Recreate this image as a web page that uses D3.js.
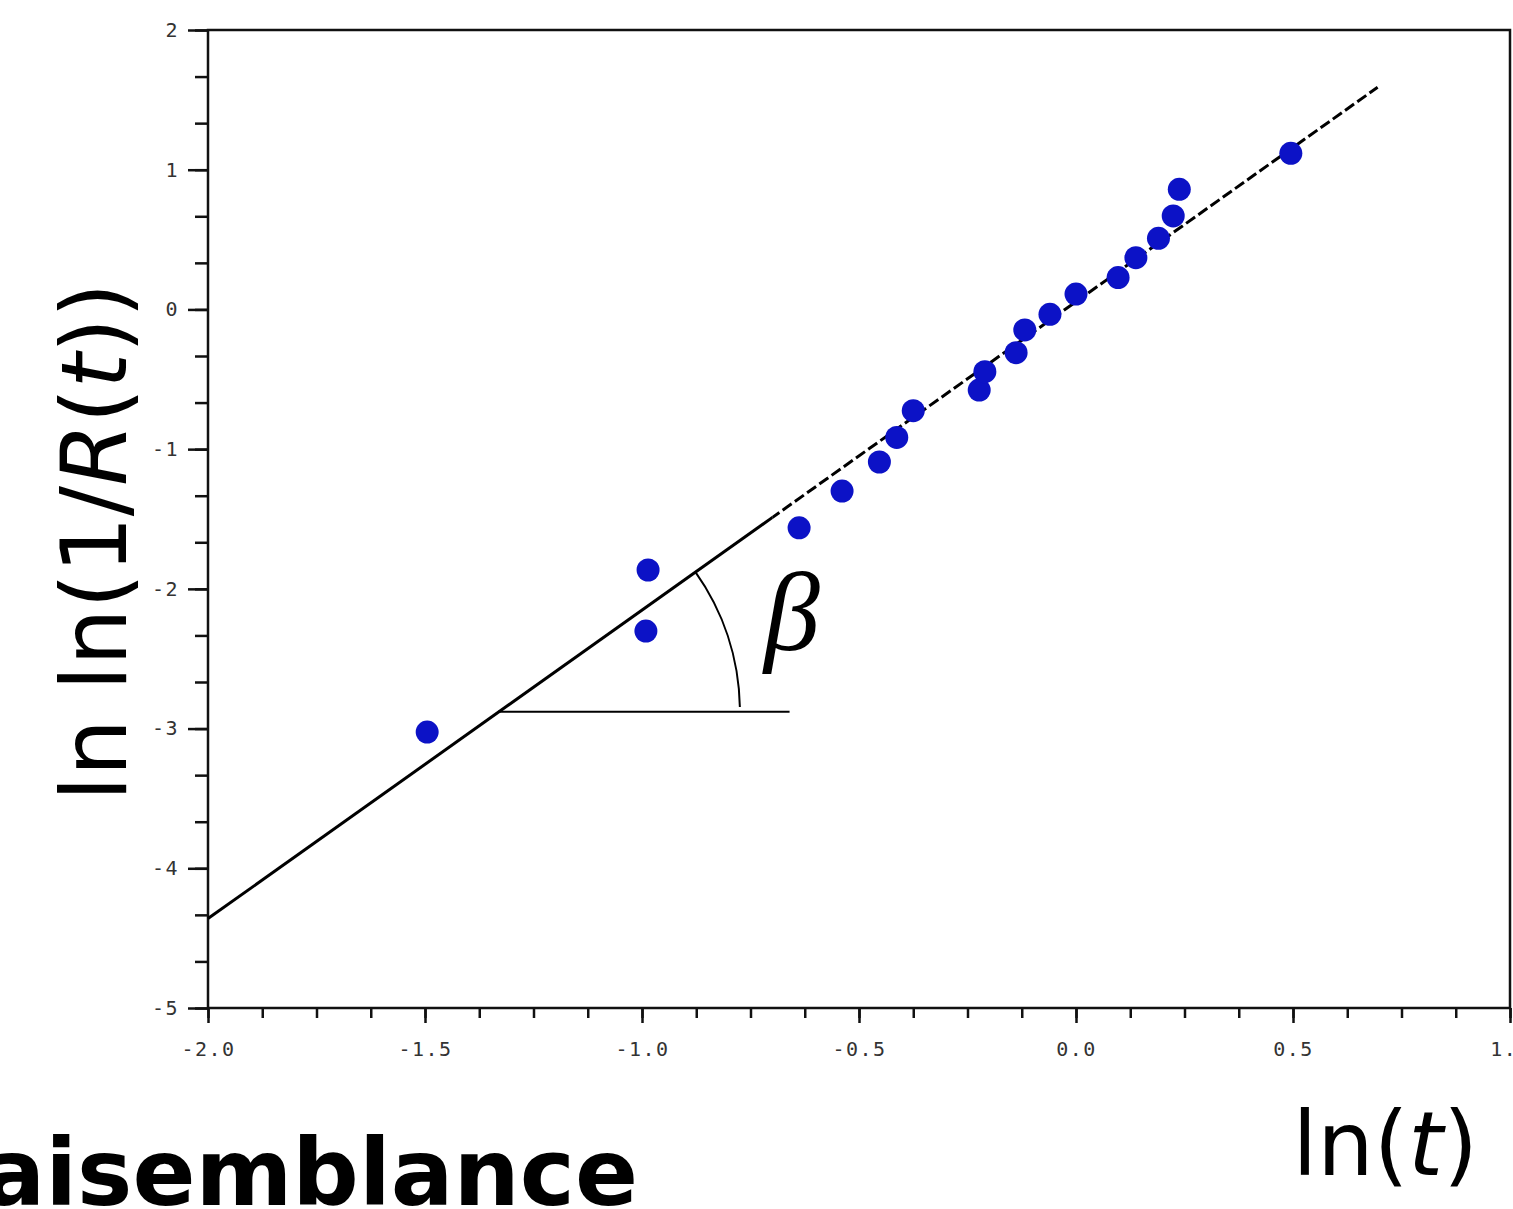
<!DOCTYPE html>
<html>
<head>
<meta charset="utf-8">
<script src="https://cdn.jsdelivr.net/npm/d3@7"></script>
<style>
  body { margin: 0; background: #fff; overflow: hidden; }
  svg { display: block; }
</style>
</head>
<body>
<div id="chart"></div>
<script>
// observations: ln(t) against ln ln(1/R(t))
const lnT = [-1.495, -0.986, -0.991, -0.638, -0.539, -0.453, -0.413, -0.375, -0.223, -0.210,
  -0.138, -0.118, -0.060, 0.000, 0.097, 0.138, 0.190, 0.224, 0.238, 0.495];
const lnLnR = [-3.025, -1.865, -2.302, -1.563, -1.300, -1.092, -0.916, -0.725, -0.577, -0.446,
  -0.310, -0.147, -0.035, 0.110, 0.228, 0.370, 0.509, 0.669, 0.860, 1.117];

// fitted line (ends) and where it turns dashed
const fitX = [-2.0, 0.695];
const fitY = [-4.36, 1.59];
const dashFrom = -0.70;

// slope marker (horizontal reference)
const angleX = [-1.332, -0.66];
const angleY = -2.88;

const xTickValues = [-2, -1.5, -1, -0.5, 0, 0.5, 1];
const xTickLabels = ["-2.0", "-1.5", "-1.0", "-0.5", "0.0", "0.5", "1.0"];
const yTickValues = [2, 1, 0, -1, -2, -3, -4, -5];
const yTickLabels = ["2", "1", "0", "-1", "-2", "-3", "-4", "-5"];

const width = 1513;
const height = 1209;
const margin = { top: 30, right: 3, bottom: 201, left: 208 };

const svg = d3
  .select("#chart")
  .append("svg")
  .attr("width", width)
  .attr("height", height);

const x = d3.scaleLinear().domain([-2, 1]).range([margin.left, width - margin.right]);
const y = d3.scaleLinear().domain([-5, 2]).range([height - margin.bottom, margin.top]);

const tickFont = "'DejaVu Sans Mono', monospace";

// minor ticks
svg.append("g")
  .attr("transform", `translate(0,${y(-5)})`)
  .call(d3.axisBottom(x).tickValues(d3.range(-2, 1.001, 0.125)).tickSize(10).tickFormat(""))
  .call((g) => g.select(".domain").remove());
svg.append("g")
  .attr("transform", `translate(${x(-2)},0)`)
  .call(d3.axisLeft(y).tickValues(d3.range(-15, 7).map((d) => d / 3)).tickSize(13).tickFormat(""))
  .call((g) => g.select(".domain").remove());

// major ticks with labels
svg.append("g")
  .attr("transform", `translate(0,${y(-5)})`)
  .call(d3.axisBottom(x).tickValues(xTickValues).tickSize(15).tickPadding(19)
    .tickFormat((d, i) => xTickLabels[i]))
  .call((g) => g.select(".domain").remove());
svg.append("g")
  .attr("transform", `translate(${x(-2)},0)`)
  .call(d3.axisLeft(y).tickValues(yTickValues).tickSize(20).tickPadding(9)
    .tickFormat((d, i) => yTickLabels[i]))
  .call((g) => g.select(".domain").remove());

svg.selectAll(".tick line").attr("stroke", "#111").attr("stroke-width", 2.5);
svg.selectAll(".tick text")
  .attr("font-family", tickFont)
  .attr("font-size", 20)
  .attr("letter-spacing", 1.5)
  .attr("fill", "#333");

// frame
svg.append("rect")
  .attr("x", x(-2))
  .attr("y", y(2))
  .attr("width", x(1) - x(-2))
  .attr("height", y(-5) - y(2))
  .attr("fill", "none")
  .attr("stroke", "#111")
  .attr("stroke-width", 2.5);

// fitted line: solid part then dashed part, split with clip rects
const defs = svg.append("defs");
defs.append("clipPath").attr("id", "solidPart")
  .append("rect")
  .attr("x", 0).attr("y", 0)
  .attr("width", x(dashFrom)).attr("height", height);
defs.append("clipPath").attr("id", "dashPart")
  .append("rect")
  .attr("x", x(dashFrom)).attr("y", 0)
  .attr("width", width - x(dashFrom)).attr("height", height);

const fitLine = d3.line().x((d) => x(d[0])).y((d) => y(d[1]));
const fitPts = d3.zip(fitX, fitY);

svg.append("path")
  .attr("d", fitLine(fitPts))
  .attr("clip-path", "url(#solidPart)")
  .attr("fill", "none")
  .attr("stroke", "#000")
  .attr("stroke-width", 3);
svg.append("path")
  .attr("d", fitLine(fitPts))
  .attr("clip-path", "url(#dashPart)")
  .attr("fill", "none")
  .attr("stroke", "#000")
  .attr("stroke-width", 3)
  .attr("stroke-dasharray", "11,4");

// slope marker: horizontal line + arc + beta
svg.append("line")
  .attr("x1", x(angleX[0]))
  .attr("x2", x(angleX[1]))
  .attr("y1", y(angleY))
  .attr("y2", y(angleY))
  .attr("stroke", "#000")
  .attr("stroke-width", 2);

const theta = Math.atan2(y(fitY[0]) - y(fitY[1]), x(fitX[1]) - x(fitX[0]));
const arcPath = d3.path();
arcPath.arc(x(angleX[0]), y(angleY), 242, -theta, -0.02, false);
svg.append("path")
  .attr("d", arcPath.toString())
  .attr("fill", "none")
  .attr("stroke", "#000")
  .attr("stroke-width", 2);

svg.append("text")
  .attr("x", x(angleX[0]) + 266)
  .attr("y", y(angleY) - 62)
  .attr("font-family", "'Liberation Serif', serif")
  .attr("font-style", "italic")
  .attr("font-size", 112)
  .text("β");

// points
svg.append("g")
  .selectAll("circle")
  .data(d3.zip(lnT, lnLnR))
  .join("circle")
  .attr("cx", (d) => x(d[0]))
  .attr("cy", (d) => y(d[1]))
  .attr("r", 11.5)
  .attr("fill", "#0c12c6");

// axis titles
const yTitle = svg.append("text")
  .attr("transform", `translate(126,542) rotate(-90)`)
  .attr("text-anchor", "middle")
  .attr("font-family", "'DejaVu Sans', sans-serif")
  .attr("font-size", 90)
  .attr("fill", "#000");
yTitle.append("tspan").text("ln ln(1/");
yTitle.append("tspan").attr("font-style", "italic").text("R");
yTitle.append("tspan").text("(");
yTitle.append("tspan").attr("font-style", "italic").text("t");
yTitle.append("tspan").text("))");

const xTitle = svg.append("text")
  .attr("x", 1478)
  .attr("y", 1175)
  .attr("text-anchor", "end")
  .attr("font-family", "'DejaVu Sans', sans-serif")
  .attr("font-size", 89)
  .attr("fill", "#000");
xTitle.append("tspan").text("ln(");
xTitle.append("tspan").attr("font-style", "italic").text("t");
xTitle.append("tspan").text(")");

svg.append("text")
  .attr("x", 638)
  .attr("y", 1205)
  .attr("text-anchor", "end")
  .attr("font-family", "'DejaVu Sans', sans-serif")
  .attr("font-weight", "bold")
  .attr("font-size", 93)
  .attr("fill", "#000")
  .text("Vraisemblance");
</script>
</body>
</html>
